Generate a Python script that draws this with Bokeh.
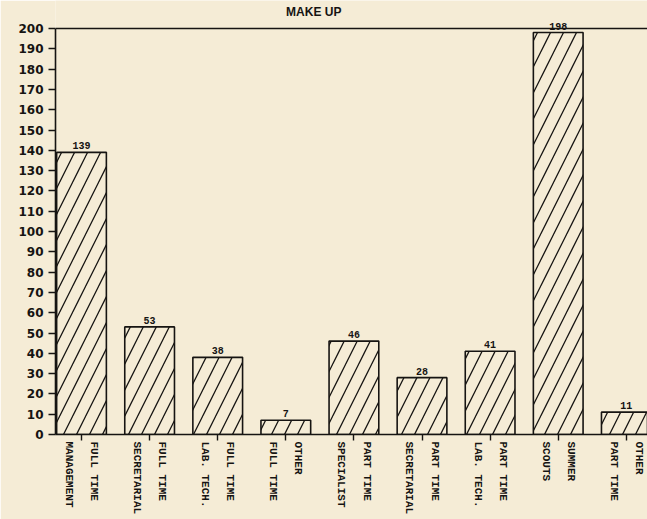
import math
from bokeh.plotting import figure
from bokeh.models import Range1d, FixedTicker, SingleIntervalTicker, Span, Label, ColumnDataSource
from bokeh.core.properties import value
from bokeh.embed import file_html
from bokeh.resources import INLINE

# ---- data ----
title_text = "MAKE UP"
label_left = ["MANAGEMENT", "SECRETARIAL", "LAB. TECH.", "FULL TIME", "SPECIALIST",
              "SECRETARIAL", "LAB. TECH.", "SCOUTS", "PART TIME"]
label_right = ["FULL TIME", "FULL TIME", "FULL TIME", "OTHER", "PART TIME",
               "PART TIME", "PART TIME", "SUMMER", "OTHER"]
counts = [139, 53, 38, 7, 46, 28, 41, 198, 11]
y_max_tick = 200
y_step = 10

# ---- styling ----
bg = "#f5ecd6"
ink = "#161412"

idx = list(range(len(counts)))
src = ColumnDataSource(dict(x=idx, top=counts, lbl=[str(c) for c in counts]))

p = figure(width=647, height=519, output_backend="svg", toolbar_location=None,
           x_range=Range1d(-0.382, 8.311), y_range=Range1d(0, 213.8),
           min_border_left=55, min_border_right=0, min_border_top=0, min_border_bottom=85)
p.background_fill_color = bg
p.border_fill_color = bg
p.outline_line_color = None
p.xgrid.visible = False
p.ygrid.visible = False

p.vbar(x="x", top="top", width=0.73, source=src,
       fill_color=None, line_color=ink, line_width=1.6,
       hatch_pattern="/", hatch_color=ink, hatch_scale=26, hatch_weight=1.3)

p.text(x="x", y="top", text="lbl", source=src, text_align="center", text_baseline="bottom",
       y_offset=-3, text_font=value("Liberation Mono"), text_font_size="10px",
       text_font_style="bold", text_color=ink)

p.add_layout(Span(location=y_max_tick, dimension="width", line_color=ink, line_width=1.6))

p.add_layout(Label(x=3.41, y=207.9, text=title_text, text_align="center", text_baseline="middle",
                   text_font="Liberation Sans", text_font_size="12px", text_font_style="bold",
                   text_color=ink))

# y axis
ya = p.yaxis[0]
ya.ticker = SingleIntervalTicker(interval=y_step, num_minor_ticks=0)
ya.bounds = (0, y_max_tick)
ya.axis_line_width = 1.6
ya.axis_line_color = ink
ya.major_tick_line_color = ink
ya.major_tick_line_width = 1.4
ya.major_tick_out = 7
ya.major_tick_in = 0
ya.minor_tick_line_color = None
ya.major_label_standoff = 5
ya.major_label_text_font = "DejaVu Sans"
ya.major_label_text_font_style = "bold"
ya.major_label_text_font_size = "12px"
ya.major_label_text_color = ink

# x axis
xa = p.xaxis[0]
xa.ticker = FixedTicker(ticks=idx)
xa.major_label_overrides = {i: label_right[i] + "\n\n" + label_left[i] for i in idx}
xa.major_label_orientation = -math.pi / 2
xa.axis_line_width = 1.6
xa.axis_line_color = ink
xa.major_tick_line_color = ink
xa.major_tick_line_width = 1.4
xa.major_tick_out = 6
xa.major_tick_in = 0
xa.minor_tick_line_color = None
xa.major_label_standoff = 1
xa.major_label_text_font = "Liberation Mono"
xa.major_label_text_font_style = "bold"
xa.major_label_text_font_size = "11px"
xa.major_label_text_line_height = 1.05
xa.major_label_text_color = ink

open("out.html", "w").write(file_html(p, INLINE))
